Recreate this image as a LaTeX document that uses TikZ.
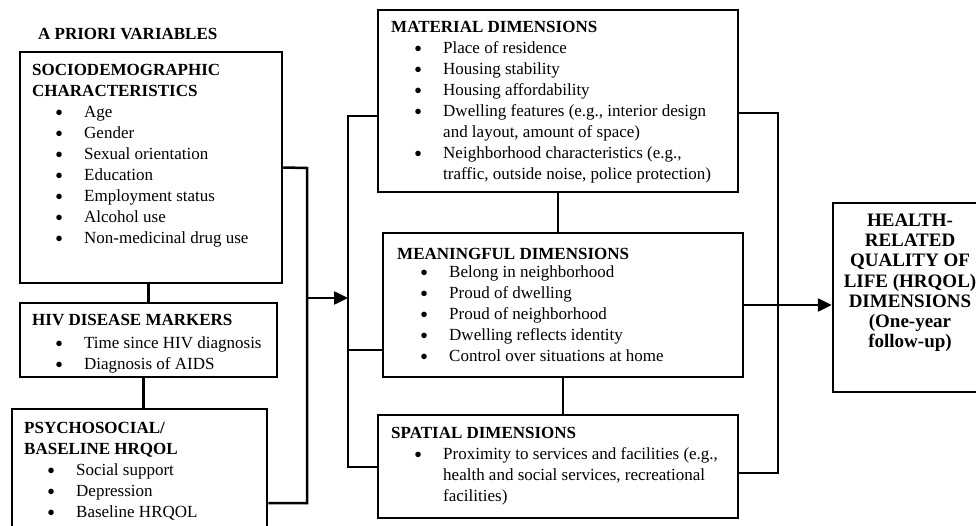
\documentclass[tikz,border=0pt]{standalone}
\usepackage{fontspec}
\usepackage{graphicx}
\setmainfont{Liberation Serif}
\usetikzlibrary{arrows.meta}

\newcommand{\itembul}[1]{\hspace*{23pt}\makebox[29pt][l]{\smash{\raisebox{-0.2em}{\scalebox{1.35}{\textbullet}}}}#1}
\newcommand{\itemcont}[1]{\hspace*{52pt}#1}

\begin{document}
\begin{tikzpicture}[x=1pt, y=-1pt,
    box/.style={draw, line width=2.5pt, inner sep=0pt, rectangle},
    txt/.style={anchor=north west, inner sep=0pt, align=left,
      font=\fontsize{17}{21}\selectfont},
    conn/.style={line width=2.5pt},
    arr/.style={line width=2.5pt, -{Triangle[length=14pt,width=13pt]}}]

      \useasboundingbox (0,0) rectangle (976,526);

      %%% a priori variables %%%
      \node (prio) at (38,40) [txt, anchor=base west] {\textbf{A PRIORI VARIABLES}};

      \node (soc) at (151,167.5) [box, minimum width=262pt, minimum height=231pt] {};
      \node (socT) at (32,63.7) [txt] {\textbf{SOCIODEMOGRAPHIC}\\
        \textbf{CHARACTERISTICS}\\
        \itembul{Age}\\
        \itembul{Gender}\\
        \itembul{Sexual orientation}\\
        \itembul{Education}\\
        \itembul{Employment status}\\
        \itembul{Alcohol use}\\
        \itembul{Non-medicinal drug use}};

      \node (hiv) at (148.5,340) [box, minimum width=257pt, minimum height=74pt] {};
      \node (hivT) at (32,313.7) [txt] {\textbf{HIV DISEASE MARKERS}\\[2pt]
        \itembul{Time since HIV diagnosis}\\
        \itembul{Diagnosis of AIDS}};

      \node (psy) at (139.5,503) [box, minimum width=255pt, minimum height=188pt] {};
      \node (psyT) at (24,421.7) [txt] {\textbf{PSYCHOSOCIAL/}\\
        \textbf{BASELINE HRQOL}\\
        \itembul{Social support}\\
        \itembul{Depression}\\
        \itembul{Baseline HRQOL}};

      \draw[conn] (hiv.north |- soc.south) to (hiv.north);
      \draw[conn] ([xshift=-5pt]hiv.south) to ([xshift=-5pt]hiv.south |- psy.north);

      % joining the three boxes
      \coordinate (jTop) at (307,168);
      \coordinate (jMid) at (307,298);
      \coordinate (jBot) at (307,503);
      \draw[conn] (soc.east) -- (jTop) -- (jBot) -- (psy.east);

      %%% housing dimensions %%%
      \node (mat) at (558,101) [box, minimum width=360pt, minimum height=182pt] {};
      \node (matT) at (391,20.7) [txt] {\textbf{MATERIAL DIMENSIONS}\\
        \itembul{Place of residence}\\
        \itembul{Housing stability}\\
        \itembul{Housing affordability}\\
        \itembul{Dwelling features (e.g., interior design}\\
        \itemcont{and layout, amount of space)}\\
        \itembul{Neighborhood characteristics (e.g.,}\\
        \itemcont{traffic, outside noise, police protection)}};

      \node (mea) at (563,305) [box, minimum width=360pt, minimum height=144pt] {};
      \node (meaT) at (397,247.7) [txt] {\textbf{MEANINGFUL DIMENSIONS}\\[-3pt]
        \itembul{Belong in neighborhood}\\
        \itembul{Proud of dwelling}\\
        \itembul{Proud of neighborhood}\\
        \itembul{Dwelling reflects identity}\\
        \itembul{Control over situations at home}};

      \node (spa) at (558,466.5) [box, minimum width=360pt, minimum height=103pt] {};
      \node (spaT) at (391,426.7) [txt] {\textbf{SPATIAL DIMENSIONS}\\
        \itembul{Proximity to services and facilities (e.g.,}\\
        \itemcont{health and social services, recreational}\\
        \itemcont{facilities)}};

      \draw[conn] (mat.south) to (mat.south |- mea.north);
      \draw[conn] (mea.south) to (mea.south |- spa.north);

      % left bus
      \coordinate (lTop) at (348,116);
      \coordinate (lMid) at (348,298);
      \coordinate (lLow) at (348,350);
      \coordinate (lBot) at (348,467);
      \draw[conn] (lTop -| mat.west) -- (lTop) -- (lBot) -- (lBot -| spa.west);
      \draw[conn] (lLow) -- (lLow -| mea.west);
      \draw[arr] (jMid) -- (lMid);

      %%% outcome %%%
      \node (out) at (910,297.5) [box, minimum width=154pt, minimum height=189pt] {};
      \node (outT) at (910,213.4) [anchor=north, inner sep=0pt, align=center,
        font=\fontsize{19}{20.3}\selectfont\bfseries] {HEALTH-\\RELATED\\QUALITY OF\\
        LIFE (HRQOL)\\DIMENSIONS\\(One-year\\follow-up)};

      % right bus
      \coordinate (rTop) at (778,113);
      \coordinate (rBot) at (778,473);
      \draw[conn] (rTop -| mat.east) -- (rTop) -- (rBot) -- (rBot -| spa.east);
      \draw[arr] (mea.east) -- (mea.east -| out.west);

    \end{tikzpicture}
\end{document}
